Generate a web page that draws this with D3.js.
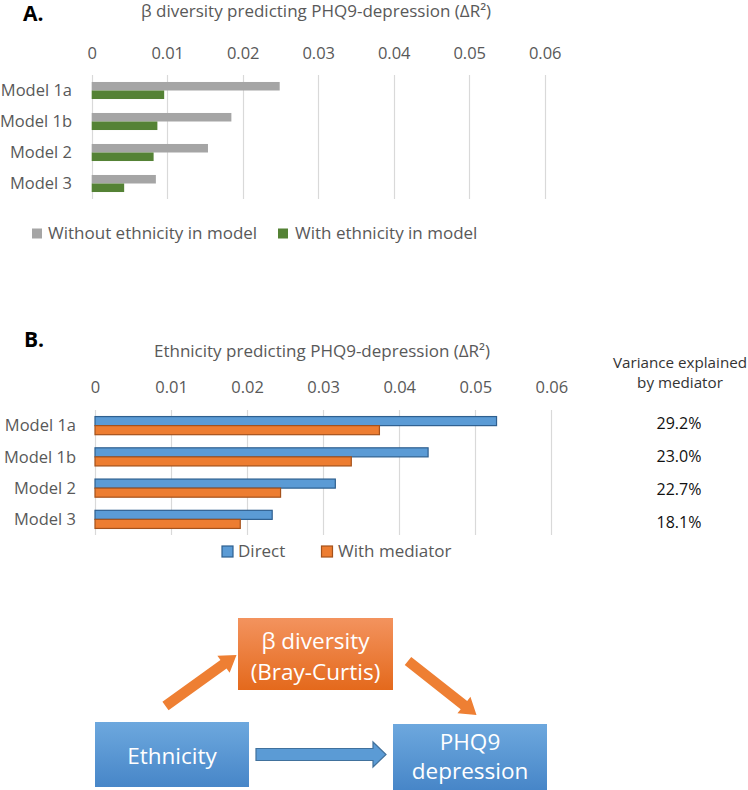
<!DOCTYPE html>
<html>
<head>
<meta charset="utf-8">
<script src="https://cdn.jsdelivr.net/npm/d3@7"></script>
<style>
  html, body { margin: 0; padding: 0; background: #fff; }
  svg text { font-family: "Open Sans", "Noto Sans", sans-serif; }
</style>
</head>
<body>
<svg id="chart" width="748" height="790"></svg>
<script>
// ---------- DATA ----------
const categories = ["Model 1a", "Model 1b", "Model 2", "Model 3"];
const tickValues = [0, 0.01, 0.02, 0.03, 0.04, 0.05, 0.06];

// Panel A: beta diversity predicting PHQ9-depression (ΔR²)
const seriesA = ["Without ethnicity in model", "With ethnicity in model"];
const withoutEthnicity = [0.0249, 0.0185, 0.0154, 0.0085];
const withEthnicity    = [0.0096, 0.0087, 0.0082, 0.0043];

// Panel B: ethnicity predicting PHQ9-depression (ΔR²)
const seriesB = ["Direct", "With mediator"];
const directEffect  = [0.0528, 0.0438, 0.0316, 0.0233];
const withMediator  = [0.0374, 0.0337, 0.0244, 0.0191];
const varianceExplained = ["29.2%", "23.0%", "22.7%", "18.1%"];

// ---------- DRAW ----------
const svg = d3.select("#chart");
const grey = "#595959";
const fmt = d => d === 0 ? "0" : d3.format(".2f")(d);

function panel(opts) {
  const g = svg.append("g");
  const x = d3.scaleLinear().domain([0, 0.06]).range([opts.x0, opts.x1]);
  const y = d3.scaleBand().domain(categories).range([opts.y0, opts.y1])
    .paddingInner(opts.padIn).paddingOuter(opts.padIn / 2);
  const ys = d3.scaleBand().domain([0, 1]).range([0, y.bandwidth()]);

  // gridlines
  g.append("g").selectAll("line").data(tickValues).join("line")
    .attr("x1", d => Math.round(x(d)) + 0.5).attr("x2", d => Math.round(x(d)) + 0.5)
    .attr("y1", opts.y0).attr("y2", opts.y1)
    .attr("stroke", "#d9d9d9").attr("stroke-width", 1.2);

  // top axis tick labels
  const ax = d3.axisTop(x).tickValues(tickValues).tickFormat(fmt).tickSize(0).tickPadding(0);
  const axg = g.append("g").attr("transform", `translate(0,${opts.tickY})`).call(ax);
  axg.select(".domain").remove();
  axg.selectAll("text").attr("fill", grey).attr("font-size", 16.5)
    .attr("font-family", "Open Sans").attr("dy", 0);

  // category labels
  g.append("g").selectAll("text").data(categories).join("text")
    .attr("x", opts.labelX).attr("y", d => y(d) + y.bandwidth() / 2)
    .attr("dy", "0.35em").attr("text-anchor", "end")
    .attr("font-size", 16.5).attr("fill", grey).text(d => d);

  // bars
  [opts.s1, opts.s2].forEach((vals, si) => {
    g.append("g").selectAll("rect").data(vals).join("rect")
      .attr("x", x(0))
      .attr("y", (d, i) => y(categories[i]) + ys(si))
      .attr("width", d => x(d) - x(0))
      .attr("height", ys.bandwidth())
      .attr("fill", opts.colors[si])
      .attr("stroke", opts.strokes ? opts.strokes[si] : "none")
      .attr("stroke-width", opts.strokes ? 1.2 : 0);
  });

  // title
  g.append("text").attr("x", opts.titleX).attr("y", opts.titleY)
    .attr("text-anchor", "middle").attr("font-size", 17).attr("fill", grey)
    .text(opts.title);

  // legend
  opts.legend.forEach((L, i) => {
    g.append("rect").attr("x", L.x).attr("y", opts.legY - L.s / 2 - 5.5)
      .attr("width", L.s).attr("height", L.s)
      .attr("fill", opts.colors[i])
      .attr("stroke", opts.strokes ? opts.strokes[i] : "none")
      .attr("stroke-width", opts.strokes ? 1.2 : 0);
    g.append("text").attr("x", L.tx).attr("y", opts.legY)
      .attr("font-size", 17).attr("fill", grey).text(opts.series[i]);
  });
  return { x, y };
}

// Panel letters
svg.append("text").attr("x", 23).attr("y", 21).attr("font-size", 21)
  .attr("font-weight", "bold").attr("font-family", "Liberation Sans, Arial").attr("fill", "#000").text("A.");
svg.append("text").attr("x", 24).attr("y", 347).attr("font-size", 21)
  .attr("font-weight", "bold").attr("font-family", "Liberation Sans, Arial").attr("fill", "#000").text("B.");

panel({
  x0: 91.7, x1: 544.7, y0: 75, y1: 199, padIn: 0.45, tickY: 59, labelX: 72,
  s1: withoutEthnicity, s2: withEthnicity, colors: ["#a5a5a5", "#548235"],
  title: "β diversity predicting PHQ9-depression (ΔR²)", titleX: 316, titleY: 17,
  series: seriesA, legY: 239,
  legend: [{ x: 32, s: 10, tx: 48 }, { x: 278, s: 10, tx: 295 }]
});

const pB = panel({
  x0: 95, x1: 551.3, y0: 410, y1: 535, padIn: 0.42, tickY: 393, labelX: 76,
  s1: directEffect, s2: withMediator, colors: ["#5b9bd5", "#ed7d31"],
  strokes: ["#2e5f8f", "#a5521b"],
  title: "Ethnicity predicting PHQ9-depression (ΔR²)", titleX: 322, titleY: 357,
  series: seriesB, legY: 557,
  legend: [{ x: 222, s: 11, tx: 238 }, { x: 321.5, s: 11, tx: 338 }]
});

// Variance explained column
svg.append("text").attr("x", 680).attr("y", 368).attr("text-anchor", "middle")
  .attr("font-size", 15.2).attr("fill", "#333").text("Variance explained");
svg.append("text").attr("x", 680).attr("y", 388).attr("text-anchor", "middle")
  .attr("font-size", 15.2).attr("fill", "#333").text("by mediator");
const pctY = d3.scalePoint().domain(categories).range([423.3, 522.7]);
svg.append("g").selectAll("text").data(varianceExplained).join("text")
  .attr("x", 679)
  .attr("y", (d, i) => pctY(categories[i]))
  .attr("dy", "0.35em").attr("text-anchor", "middle")
  .attr("font-size", 16).attr("fill", "#111").text(d => d);

// ---------- Mediation diagram ----------
const defs = svg.append("defs");
function grad(id, c1, c2) {
  const lg = defs.append("linearGradient").attr("id", id)
    .attr("x1", 0).attr("y1", 0).attr("x2", 0).attr("y2", 1);
  lg.append("stop").attr("offset", "0%").attr("stop-color", c1);
  lg.append("stop").attr("offset", "100%").attr("stop-color", c2);
}
grad("gOrange", "#f3935e", "#e4691c");
grad("gBlue", "#6da8de", "#4786c8");

const diagram = svg.append("g");
function arrow(x1, y1, x2, y2, sw, hw, hl, fill, stroke) {
  const dx = x2 - x1, dy = y2 - y1, L = Math.hypot(dx, dy);
  const ux = dx / L, uy = dy / L, px = -uy, py = ux;
  const bx = x2 - ux * hl, by = y2 - uy * hl;
  const pts = [
    [x1 + px * sw / 2, y1 + py * sw / 2],
    [bx + px * sw / 2, by + py * sw / 2],
    [bx + px * hw / 2, by + py * hw / 2],
    [x2, y2],
    [bx - px * hw / 2, by - py * hw / 2],
    [bx - px * sw / 2, by - py * sw / 2],
    [x1 - px * sw / 2, y1 - py * sw / 2]
  ];
  diagram.append("polygon").attr("points", pts.map(p => p.join(",")).join(" "))
    .attr("fill", fill).attr("stroke", stroke || "none").attr("stroke-width", stroke ? 1.2 : 0);
}
arrow(165.5, 706, 236.5, 655, 10.5, 21, 16, "#ee7f33");
arrow(408, 661, 476.5, 715, 10.5, 21, 16, "#ee7f33");
arrow(256, 754.5, 386, 754.5, 12, 25, 13, "#5b9bd5", "#41719c");

function box(x, y, w, h, fillId, lines) {
  diagram.append("rect").attr("x", x).attr("y", y).attr("width", w).attr("height", h)
    .attr("fill", `url(#${fillId})`);
  lines.forEach(l => diagram.append("text").attr("x", x + w / 2).attr("y", l.y)
    .attr("text-anchor", "middle").attr("font-size", 22.5).attr("fill", "#fff").text(l.t));
}
box(238, 618, 155, 72, "gOrange", [{ t: "β diversity", y: 649 }, { t: "(Bray-Curtis)", y: 680 }]);
box(95, 722, 154, 65, "gBlue", [{ t: "Ethnicity", y: 764 }]);
box(393, 724, 154, 66, "gBlue", [{ t: "PHQ9", y: 750 }, { t: "depression", y: 779 }]);
</script>
</body>
</html>
